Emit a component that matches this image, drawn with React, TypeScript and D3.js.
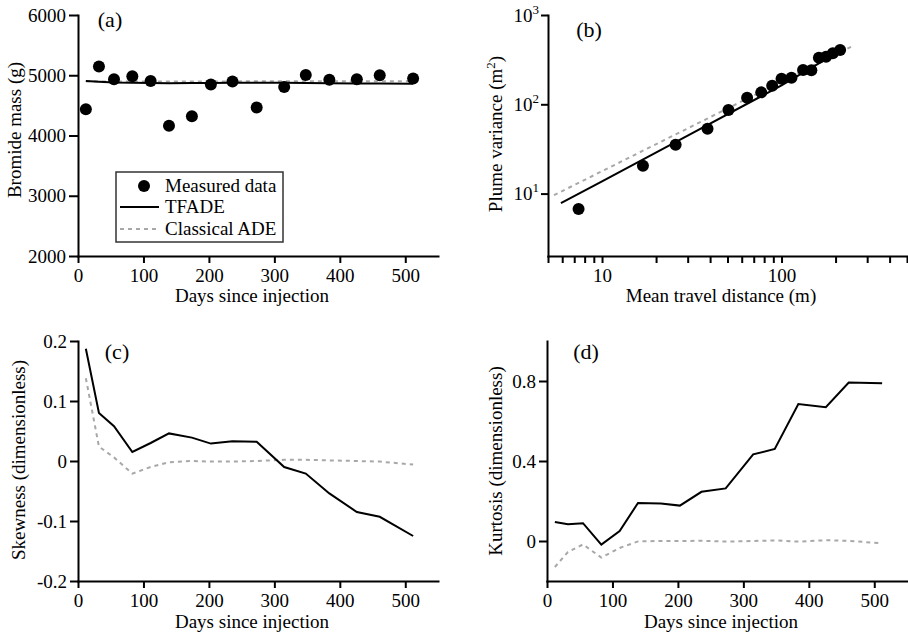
import React, { useEffect, useRef } from 'react';
import * as d3 from 'd3';

// days since injection of each snapshot
const days = [12, 32, 55, 83, 111, 139, 174, 203, 236, 273, 315, 348, 384, 426, 461, 512];

// (a) bromide mass (g)
const measuredMass = [4435, 5145, 4935, 4985, 4905, 4160, 4320, 4845, 4895, 4465, 4805, 5005, 4925, 4935, 5000, 4945];
const tfadeMass = [4905, 4892, 4880, 4875, 4870, 4868, 4870, 4872, 4874, 4876, 4874, 4870, 4866, 4864, 4862, 4858];
const adeMass = [4900, 4898, 4897, 4897, 4897, 4897, 4898, 4898, 4898, 4899, 4899, 4899, 4899, 4900, 4900, 4900];

// (b) plume variance vs mean travel distance
const meanDistance = [7.4, 16.9, 25.7, 38.7, 50.6, 64.3, 77.1, 88.7, 100, 113.6, 131.8, 146.6, 161.5, 177, 193, 212];
const measuredVariance = [6.7, 20.5, 35.3, 53.3, 86.3, 118.5, 136, 161.7, 193.6, 198.6, 242, 240, 332, 341, 372, 405];
const tfadeDistance = [5.9, 10, 30, 100, 219];
const tfadeVariance = [7.8, 13.7, 44.5, 163, 413];
const adeDistance = [5.4, 249];
const adeVariance = [9.6, 450];

// (c) skewness
const tfadeSkew = [0.187, 0.08, 0.058, 0.015, 0.03, 0.046, 0.039, 0.029, 0.033, 0.032, -0.01, -0.021, -0.054, -0.085, -0.093, -0.125];
const adeSkew = [0.138, 0.024, 0.006, -0.021, -0.01, -0.002, 0, -0.001, -0.001, 0, 0.002, 0.002, 0.001, 0, -0.001, -0.006];

// (d) kurtosis
const tfadeKurt = [0.095, 0.084, 0.089, -0.018, 0.05, 0.19, 0.187, 0.177, 0.246, 0.263, 0.433, 0.46, 0.685, 0.669, 0.792, 0.789];
const adeKurt = [-0.13, -0.055, -0.017, -0.083, -0.035, -0.002, 0, 0, 0.001, -0.003, 0, 0.003, -0.003, 0.004, 0.001, -0.012];

const dayTicks = [0, 100, 200, 300, 400, 500];
const massTicks = [2000, 3000, 4000, 5000, 6000];
const skewTicks = [-0.2, -0.1, 0, 0.1, 0.2];
const kurtTicks = [0, 0.4, 0.8];
const distTicks = [5, 6, 7, 8, 9, 10, 20, 30, 40, 50, 60, 70, 80, 90, 100, 200, 300, 400, 500];
const varTicks = [10, 100, 1000];

const font = 'Liberation Serif, Tinos, Times New Roman, Times, DejaVu Serif, serif';
const dashColor = '#a8a8a8';

export default function App() {
  const ref = useRef<SVGSVGElement>(null);

  useEffect(() => {
    const svg = d3.select(ref.current);
    svg.selectAll('*').remove();
    svg.attr('font-family', font);

    const styleAxis = (g: any) => {
      g.attr('font-family', font);
      g.select('.domain').attr('stroke-width', 2).attr('stroke-linecap', 'square');
      g.selectAll('.tick line').attr('stroke-width', 2);
      g.selectAll('.tick text').attr('font-size', 19).attr('font-family', font).attr('fill', '#000');
    };

    const label = (text: string, x: number, y: number, rotate = false, size = 19) =>
      svg.append('text')
        .attr('transform', rotate ? `translate(${x},${y}) rotate(-90)` : `translate(${x},${y})`)
        .attr('text-anchor', 'middle')
        .attr('font-family', font)
        .attr('font-size', size)
        .text(text);

    const fmtDec = (d: number) => (d === 0 ? '0' : d.toFixed(1));

    const drawLine = (x: any, y: any, xs: number[], ys: number[], dashed: boolean) => {
      const line = d3.line<[number, number]>().x(d => x(d[0])).y(d => y(d[1]));
      svg.append('path')
        .attr('d', line(d3.zip(xs, ys) as [number, number][]))
        .attr('fill', 'none')
        .attr('stroke', dashed ? dashColor : '#000')
        .attr('stroke-width', 2)
        .attr('stroke-dasharray', dashed ? '4,4' : null);
    };

    const drawPoints = (x: any, y: any, xs: number[], ys: number[]) => {
      svg.append('g')
        .selectAll('circle')
        .data(d3.zip(xs, ys))
        .enter()
        .append('circle')
        .attr('cx', d => x(d[0]))
        .attr('cy', d => y(d[1]))
        .attr('r', 6)
        .attr('fill', '#000');
    };

    // (a)
    const xa = d3.scaleLinear().domain([0, 550]).range([78, 438]);
    const ya = d3.scaleLinear().domain([2000, 6000]).range([256, 15]);
    svg.append('g').attr('transform', 'translate(0,256)')
      .call(d3.axisBottom(xa).tickValues(dayTicks).tickSize(7).tickSizeOuter(0).tickPadding(6))
      .call(styleAxis);
    svg.append('g').attr('transform', 'translate(78,0)')
      .call(d3.axisLeft(ya).tickValues(massTicks).tickFormat(d3.format('d')).tickSize(9).tickSizeOuter(0).tickPadding(3))
      .call(styleAxis);
    drawLine(xa, ya, days, adeMass, true);
    drawLine(xa, ya, days, tfadeMass, false);
    drawPoints(xa, ya, days, measuredMass);
    label('(a)', 110, 27, false, 22);
    label('Days since injection', 252, 302);
    label('Bromide mass (g)', 21, 130, true);

    // legend
    svg.append('rect')
      .attr('x', 116).attr('y', 172).attr('width', 167).attr('height', 70)
      .attr('fill', '#fff').attr('stroke', '#333').attr('stroke-width', 1.5);
    svg.append('circle').attr('cx', 144).attr('cy', 186).attr('r', 6).attr('fill', '#000');
    svg.append('line').attr('x1', 120).attr('x2', 159).attr('y1', 207).attr('y2', 207)
      .attr('stroke', '#000').attr('stroke-width', 2);
    svg.append('line').attr('x1', 120).attr('x2', 159).attr('y1', 229).attr('y2', 229)
      .attr('stroke', dashColor).attr('stroke-width', 2).attr('stroke-dasharray', '4,4');
    [['Measured data', 192], ['TFADE', 213], ['Classical ADE', 235]].forEach(([t, y]) => {
      svg.append('text').attr('x', 165).attr('y', y as number)
        .attr('font-family', font).attr('font-size', 19).text(t as string);
    });

    // (b)
    const xb = d3.scaleLog().domain([5, 500]).range([548, 907]);
    const yb = d3.scaleLog().domain([2, 1000]).range([256, 15]);
    svg.append('g').attr('transform', 'translate(0,256)')
      .call(d3.axisBottom(xb).tickValues(distTicks)
        .tickFormat((d: any) => (d === 10 || d === 100 ? String(d) : ''))
        .tickSize(7).tickSizeOuter(0).tickPadding(6))
      .call(styleAxis);
    const gyb = svg.append('g').attr('transform', 'translate(548,0)')
      .call(d3.axisLeft(yb).tickValues(varTicks).tickFormat(() => '').tickSize(7).tickSizeOuter(0).tickPadding(2))
      .call(styleAxis);
    gyb.selectAll('.tick text').each(function (d: any) {
      const t = d3.select(this);
      t.append('tspan').text('10');
      t.append('tspan').attr('dy', -8).attr('font-size', 13).text(String(Math.round(Math.log10(d))));
    });
    drawLine(xb, yb, adeDistance, adeVariance, true);
    drawLine(xb, yb, tfadeDistance, tfadeVariance, false);
    drawPoints(xb, yb, meanDistance, measuredVariance);
    label('(b)', 589, 37, false, 22);
    label('Mean travel distance (m)', 721, 302);
    const yl = svg.append('text')
      .attr('transform', 'translate(502,134) rotate(-90)')
      .attr('text-anchor', 'middle')
      .attr('font-family', font)
      .attr('font-size', 19);
    yl.append('tspan').text('Plume variance (m');
    yl.append('tspan').attr('dy', -7).attr('font-size', 13).text('2');
    yl.append('tspan').attr('dy', 7).text(')');

    // (c)
    const xc = d3.scaleLinear().domain([0, 550]).range([78, 438]);
    const yc = d3.scaleLinear().domain([-0.2, 0.2]).range([581, 341]);
    svg.append('g').attr('transform', 'translate(0,581)')
      .call(d3.axisBottom(xc).tickValues(dayTicks).tickSize(7).tickSizeOuter(0).tickPadding(6))
      .call(styleAxis);
    svg.append('g').attr('transform', 'translate(78,0)')
      .call(d3.axisLeft(yc).tickValues(skewTicks).tickFormat(fmtDec as any).tickSize(8).tickSizeOuter(0).tickPadding(3))
      .call(styleAxis);
    drawLine(xc, yc, days, adeSkew, true);
    drawLine(xc, yc, days, tfadeSkew, false);
    label('(c)', 117, 359, false, 22);
    label('Days since injection', 252, 628);
    label('Skewness (dimensionless)', 25, 460, true);

    // (d)
    const xd = d3.scaleLinear().domain([0, 550]).range([547, 907]);
    const yd = d3.scaleLinear().domain([-0.2, 1.0]).range([581, 341]);
    svg.append('g').attr('transform', 'translate(0,581)')
      .call(d3.axisBottom(xd).tickValues(dayTicks).tickSize(7).tickSizeOuter(0).tickPadding(6))
      .call(styleAxis);
    svg.append('g').attr('transform', 'translate(547,0)')
      .call(d3.axisLeft(yd).tickValues(kurtTicks).tickFormat(fmtDec as any).tickSize(8).tickSizeOuter(0).tickPadding(3))
      .call(styleAxis);
    drawLine(xd, yd, days, adeKurt, true);
    drawLine(xd, yd, days, tfadeKurt, false);
    label('(d)', 586, 359, false, 22);
    label('Days since injection', 721, 628);
    label('Kurtosis (dimensionless)', 502, 461, true);
  }, []);

  return (
    <svg
      ref={ref}
      width={908}
      height={635}
      style={{ position: 'absolute', left: 0, top: 0, background: '#fff' }}
    />
  );
}
